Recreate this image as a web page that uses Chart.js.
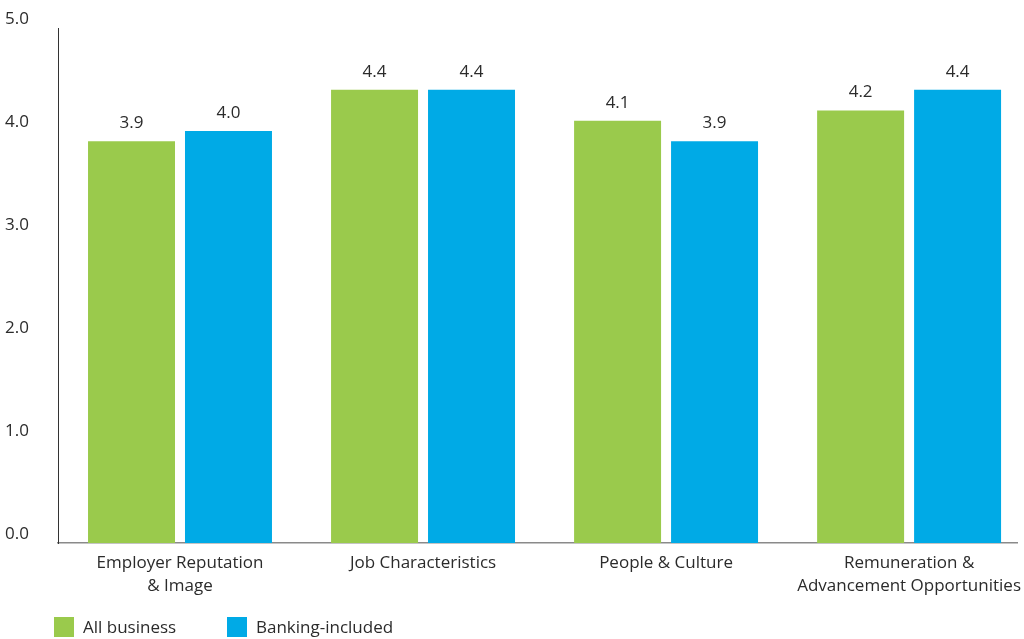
<!DOCTYPE html>
<html>
<head>
<meta charset="utf-8">
<script src="https://cdn.jsdelivr.net/npm/chart.js@4.4.1/dist/chart.umd.min.js"></script>
<style>
  html, body { margin: 0; padding: 0; background: #fff; }
  #wrap { position: relative; width: 1024px; height: 639px; }
  canvas { display: block; }
  .leg { position: absolute; top: 617px; font-family: "Open Sans", sans-serif; font-size: 17px; color: #2b2b2b; line-height: 20px; }
  .sw { position: absolute; top: 617px; width: 20px; height: 20px; }
</style>
</head>
<body>
<div id="wrap">
  <canvas id="c" width="1024" height="639"></canvas>
  <div class="sw" id="sw0" style="left:54px;"></div>
  <div class="leg" id="lg0" style="left:83px;"></div>
  <div class="sw" id="sw1" style="left:227px;"></div>
  <div class="leg" id="lg1" style="left:256px;"></div>
</div>
<script>
const categories = [
  ["Employer Reputation", "& Image"],
  ["Job Characteristics"],
  ["People & Culture"],
  ["Remuneration &", "Advancement Opportunities"]
];
const seriesNames = ["All business", "Banking-included"];
const allBusiness = [3.9, 4.4, 4.1, 4.2];
const bankingIncluded = [4.0, 4.4, 3.9, 4.4];
const yTicks = [0, 1, 2, 3, 4, 5];
const colors = ["#9aca4c", "#00aae6"];

document.getElementById('sw0').style.background = colors[0];
document.getElementById('sw1').style.background = colors[1];
document.getElementById('lg0').textContent = seriesNames[0];
document.getElementById('lg1').textContent = seriesNames[1];

const FONT = "'Open Sans', sans-serif";
const TXT = "#2b2b2b";

const valueLabels = {
  id: 'valueLabels',
  afterDatasetsDraw(chart) {
    const ctx = chart.ctx;
    ctx.save();
    ctx.font = "17px " + FONT;
    ctx.fillStyle = TXT;
    ctx.textAlign = 'center';
    ctx.textBaseline = 'alphabetic';
    chart.data.datasets.forEach((ds, di) => {
      const meta = chart.getDatasetMeta(di);
      meta.data.forEach((el, i) => {
        ctx.fillText(ds.data[i].y.toFixed(1), el.x, el.y - 13);
      });
    });
    ctx.restore();
  }
};

const toPoints = arr => arr.map((v, i) => ({ x: i, y: v }));

new Chart(document.getElementById('c'), {
  type: 'bar',
  data: {
    datasets: [
      { label: seriesNames[0], data: toPoints(allBusiness), backgroundColor: colors[0], borderWidth: 0 },
      { label: seriesNames[1], data: toPoints(bankingIncluded), backgroundColor: colors[1], borderWidth: 0 }
    ]
  },
  options: {
    responsive: false,
    animation: false,
    events: [],
    categoryPercentage: 0.798,
    barPercentage: 0.897,
    layout: { padding: { left: 5, right: 7, top: 28, bottom: 26 } },
    plugins: { legend: { display: false }, tooltip: { enabled: false } },
    scales: {
      x: {
        type: 'linear',
        min: -0.502,
        max: 3.444,
        offset: false,
        grid: { display: false, drawTicks: false },
        border: { display: true, color: '#8a8a8a', width: 1.5 },
        afterFit(scale) {
          scale.height = 70;
          scale.paddingLeft = 0;
          scale.paddingRight = 0;
        },
        afterBuildTicks(scale) {
          scale.ticks = categories.map((c, i) => ({ value: i }));
        },
        ticks: {
          autoSkip: false,
          maxRotation: 0,
          padding: 8,
          color: TXT,
          font: { family: FONT, size: 17, lineHeight: 1.38 },
          callback: (v) => categories[v] || ''
        }
      },
      y: {
        min: 0,
        max: 5,
        grid: { display: false, drawTicks: false },
        border: { display: true, color: '#333333', width: 1 },
        afterFit(scale) {
          scale.width = 53;
          scale.paddingTop = 0;
          scale.paddingBottom = 0;
        },
        afterBuildTicks(scale) {
          scale.ticks = yTicks.map(v => ({ value: v }));
        },
        ticks: {
          crossAlign: 'far',
          labelOffset: -9,
          color: TXT,
          font: { family: FONT, size: 17 },
          callback: (v) => Number(v).toFixed(1)
        }
      }
    }
  },
  plugins: [valueLabels]
});
</script>
</body>
</html>
